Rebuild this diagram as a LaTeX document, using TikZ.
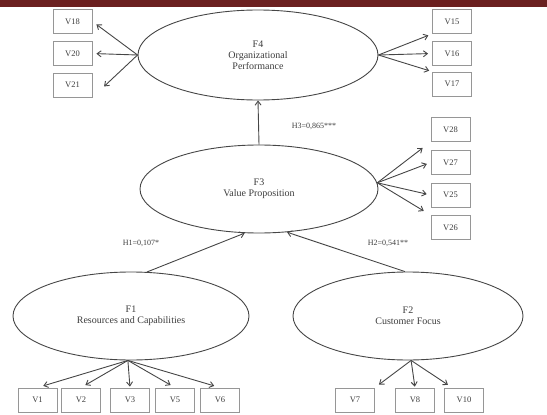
\documentclass[tikz,border=0pt]{standalone}
\usepackage{fontspec}
\setmainfont{Liberation Serif}
\usetikzlibrary{shapes.geometric,arrows.meta,calc}
\definecolor{barred}{RGB}{107,32,32}
\definecolor{lineg}{RGB}{70,70,70}
\definecolor{txtg}{RGB}{60,60,60}
\definecolor{boxg}{RGB}{150,150,150}
\begin{document}
\begin{tikzpicture}[x=1pt,y=-1pt,
  latent/.style={ellipse,draw=lineg,line width=0.9pt,text=txtg,align=center,font=\fontsize{10}{11}\selectfont,inner sep=0pt},
  obs/.style={draw=boxg,line width=0.8pt,minimum width=39pt,minimum height=24pt,inner sep=0pt,text=txtg,font=\fontsize{8.5}{9}\selectfont},
  lnk/.style={draw=lineg,line width=0.9pt,-{Straight Barb[length=4pt,width=6pt]},shorten >=4pt},
  hyp/.style={text=txtg,font=\fontsize{8}{9}\selectfont,inner sep=1pt}]
\useasboundingbox (0,0) rectangle (547,415);
\fill[barred] (0,0) rectangle (547,7);
% latent variables
\node[latent,minimum width=240pt,minimum height=90pt] (F4) at (258,55) {F4\\Organizational\\Performance};
\node[latent,minimum width=238pt,minimum height=88pt] (F3) at (259,189) {F3\\Value Proposition};
\node[latent,minimum width=236pt,minimum height=88pt] (F1) at (131,316) {F1\\Resources and Capabilities};
\node[latent,minimum width=230pt,minimum height=88pt] (F2) at (408,316) {F2\\Customer Focus};
% observed variables
\node[obs] (V18) at (72.5,21.5) {V18};
\node[obs] (V20) at (72.5,53.5) {V20};
\node[obs] (V21) at (72.5,85) {V21};
\node[obs] (V15) at (452,21.5) {V15};
\node[obs] (V16) at (452,53.5) {V16};
\node[obs] (V17) at (452,84) {V17};
\node[obs] (V28) at (450.5,129.5) {V28};
\node[obs] (V27) at (450.5,162.5) {V27};
\node[obs] (V25) at (450.5,195) {V25};
\node[obs] (V26) at (450.5,227.5) {V26};
\node[obs] (V1) at (37.5,400) {V1};
\node[obs] (V2) at (81,400) {V2};
\node[obs] (V3) at (130,400) {V3};
\node[obs] (V5) at (175,400) {V5};
\node[obs] (V6) at (220,400) {V6};
\node[obs] (V7) at (355,400) {V7};
\node[obs] (V8) at (415,400) {V8};
\node[obs] (V10) at (464,400) {V10};
% anchor points
\coordinate (f1b) at (F1.266);
\coordinate (f2b) at (F2.274);
\coordinate (f3e) at (F3.3);
% F4 indicators
\draw[lnk,shorten >=5pt] (F4.west) -- (V18.east);
\draw[lnk] (F4.west) -- (V20.east);
\draw[lnk,shorten >=16pt] (F4.west) -- (V21.south east);
\draw[lnk] (F4.east) -- (V15.south west);
\draw[lnk] (F4.east) -- (V16.west);
\draw[lnk,shorten >=3pt] (F4.east) -- (V17.north west);
% F3 indicators
\draw[lnk,shorten >=10pt] (f3e) -- (V28.south west);
\draw[lnk] (f3e) -- (V27.west);
\draw[lnk] (f3e) -- (V25.west);
\draw[lnk,shorten >=8pt] (f3e) -- (V26.north west);
% F1 indicators
\draw[lnk,shorten >=6pt] (f1b) -- (V1.north);
\draw[lnk,shorten >=5pt] (f1b) -- (V2.north);
\draw[lnk,shorten >=1pt] (f1b) -- (V3.north);
\draw[lnk,shorten >=5pt] (f1b) -- (V5.north);
\draw[lnk,shorten >=6pt] (f1b) -- (V6.north);
% F2 indicators
\draw[lnk,shorten >=5pt] (f2b) -- (V7.north east);
\draw[lnk,shorten >=1pt] (f2b) -- (V8.north);
\draw[lnk,shorten >=5pt] (f2b) -- ($(V10.north west)+(8,0)$);
% structural paths
\draw[lnk,shorten >=0pt] (F3.north) -- (F4.south);
\draw[lnk,shorten >=0pt] (F1.70) -- (F3.252);
\draw[lnk,shorten >=0pt] (F2.94) -- (F3.303);
% hypothesis labels
\node[hyp] (h3) at (314,126) {H3=0,865***};
\node[hyp] (h1) at (141,243) {H1=0,107*};
\node[hyp] (h2) at (388,243) {H2=0,541**};
\end{tikzpicture}
\end{document}
